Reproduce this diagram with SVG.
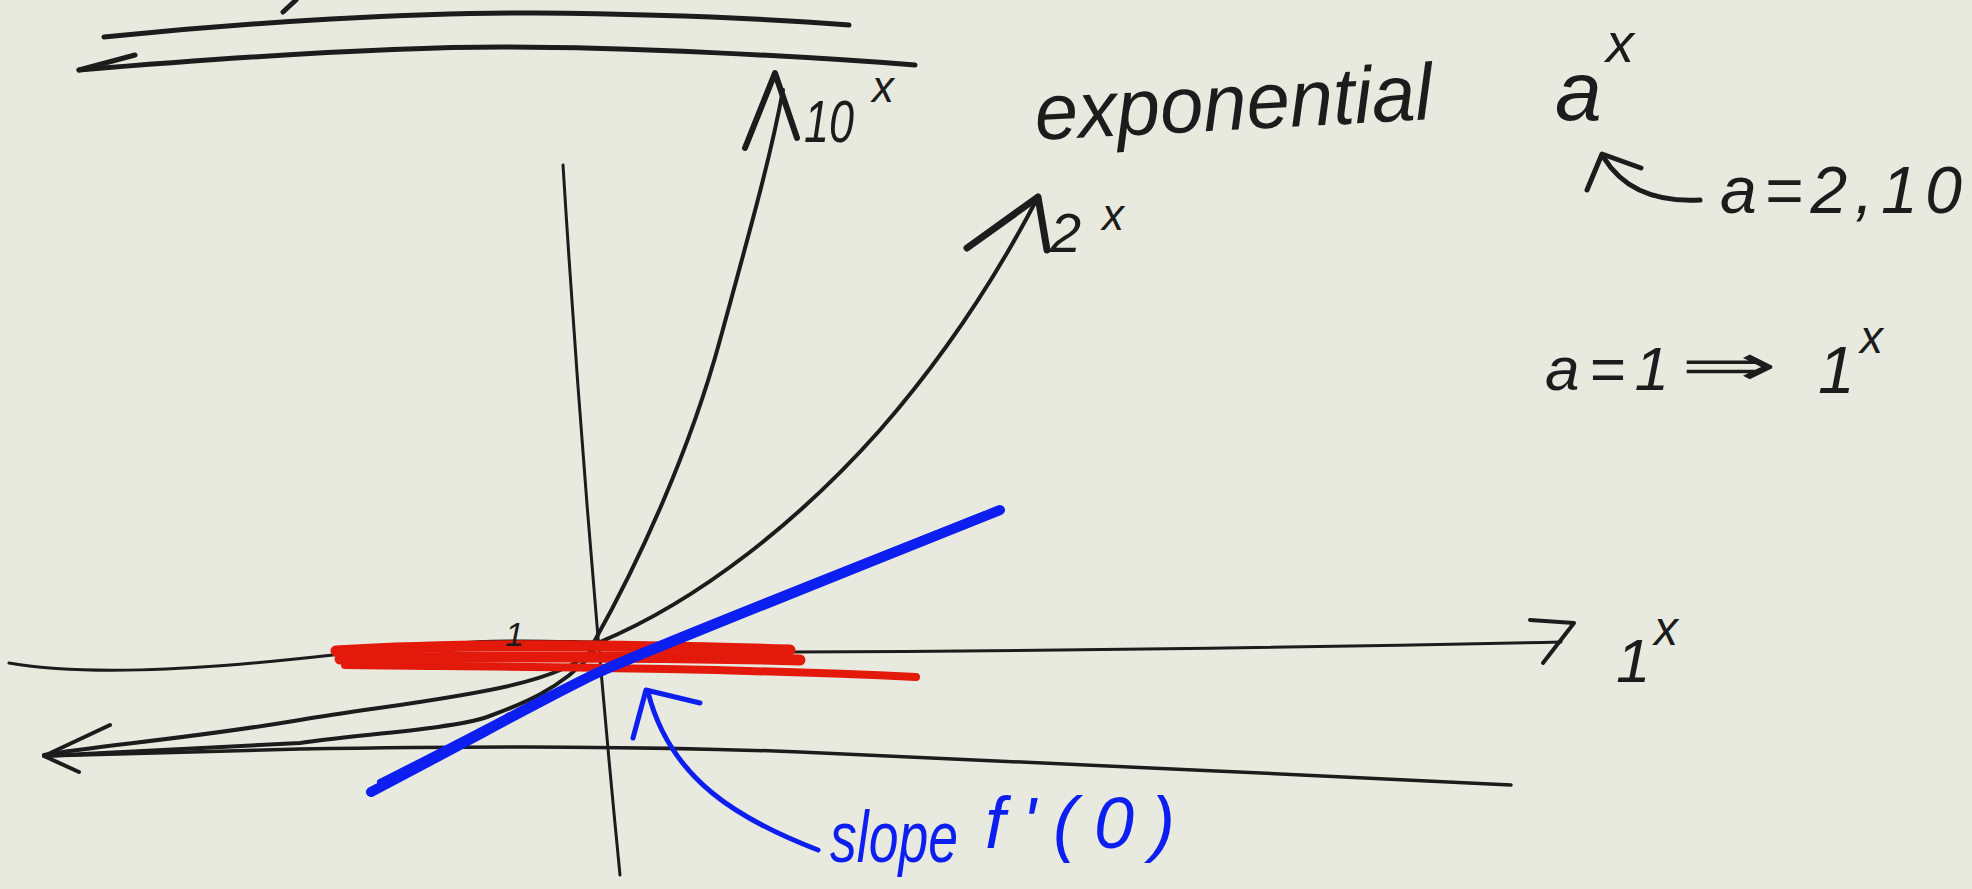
<svg xmlns="http://www.w3.org/2000/svg" width="1972" height="889" viewBox="0 0 1972 889">
<style>
.ink{fill:none;stroke:#1c1c1c;stroke-linecap:round;stroke-linejoin:round}
.red{fill:none;stroke:#e2190b;stroke-linecap:round}
.blue{fill:none;stroke:#0d1ff0;stroke-linecap:round;stroke-linejoin:round}
.t{font-family:"Liberation Sans","DejaVu Sans",sans-serif;font-style:italic;fill:#1c1c1c}
.tb{font-family:"Liberation Sans","DejaVu Sans",sans-serif;font-style:italic;fill:#0d1ff0}
</style>
<rect width="1972" height="889" fill="#e9eadf"/>
<g id="top-strokes">
<path class="ink" stroke-width="5" d="M296,0 L283,12"/>
<path class="ink" stroke-width="5" d="M104,37 C250,22 420,12 535,13 S760,18 849,25"/>
<path class="ink" stroke-width="5" d="M79,70 C200,60 380,47 503,47 S800,56 915,65"/>
<path class="ink" stroke-width="5" d="M79,70 L135,55"/>
</g>
<g id="axes">
<path class="ink" stroke-width="3" d="M563,165 Q585,520 620,875"/>
<path class="ink" stroke-width="3.5" d="M44,756 L300,749 C500,746 650,746 800,752 S1300,775 1511,785"/>
<path class="ink" stroke-width="4" d="M110,725 L44,756 L79,772"/>
</g>
<g id="curve-1x">
<path class="ink" stroke-width="3" d="M9,663 C80,675 180,672 333,655 S500,640 594,642 L790,652 Q1200,650 1561,642"/>
<path class="ink" stroke-width="4" d="M1530,620 L1574,623 L1543,663"/>
<text class="t" x="1616" y="682" font-size="62" font-style="normal">1</text>
<text class="t" x="1654" y="645" font-size="48" font-style="normal">x</text>
</g>
<g id="curve-10x">
<path class="ink" stroke-width="4" d="M594,642 C640,560 690,450 720,340 S770,160 783,90"/>
<path class="ink" stroke-width="6" d="M745,148 L775,73 L797,138"/>
<text class="t" x="804" y="142" font-size="60" textLength="50" lengthAdjust="spacingAndGlyphs">10</text>
<text class="t" x="872" y="102" font-size="44">x</text>
</g>
<g id="curve-2x">
<path class="ink" stroke-width="4" d="M600,642 C700,600 800,520 880,430 C950,350 1000,270 1038,197"/>
<path class="ink" stroke-width="7" d="M967,248 L1038,197 L1047,250"/>
<text class="t" x="1050" y="252" font-size="56" font-style="normal">2</text>
<text class="t" x="1102" y="230" font-size="44">x</text>
</g>
<g id="left-tails">
<path class="ink" stroke-width="4" d="M592,650 C555,690 420,700 300,720 S100,745 44,755"/>
<path class="ink" stroke-width="4" d="M594,652 C560,690 520,705 487,717 S350,735 300,743 L44,756"/>
</g>
<g id="tangent-red">
<path class="red" stroke-width="11" d="M336,651 C450,644 600,644 790,650"/>
<path class="red" stroke-width="11" d="M340,659 C500,656 650,656 800,660"/>
<path class="red" stroke-width="8" d="M345,665 C500,667 700,667 916,677"/>
<text class="t" x="505" y="646" font-size="34" font-style="normal">1</text>
</g>
<g id="tangent-blue">
<path class="blue" stroke-width="10" d="M371,792 C480,735 560,690 600,672 S800,590 1000,510"/>
<path class="blue" stroke-width="6" d="M380,782 C487,728 567,684 607,666 S805,585 985,514"/>
</g>
<g id="slope-label">
<path class="blue" stroke-width="5" d="M818,850 C740,820 670,780 648,692"/>
<path class="blue" stroke-width="5" d="M633,738 L646,690 L700,703"/>
<text class="tb" x="830" y="862" font-size="72" textLength="128" lengthAdjust="spacingAndGlyphs">slope</text>
<text class="tb" x="985" y="848" font-size="72" textLength="190" lengthAdjust="spacing">f'(0)</text>
</g>
<g id="title">
<text class="t" x="1036" y="140" font-size="80" textLength="398" lengthAdjust="spacingAndGlyphs" transform="rotate(-3 1036 140)">exponential</text>
<text class="t" x="1555" y="120" font-size="84">a</text>
<text class="t" x="1606" y="62" font-size="56">x</text>
<path class="ink" stroke-width="5" d="M1700,200 C1660,202 1625,192 1604,158"/>
<path class="ink" stroke-width="5" d="M1587,190 L1602,154 L1641,168"/>
<text class="t" x="1720" y="213" font-size="66" textLength="242" lengthAdjust="spacing">a=2,10</text>
<text class="t" x="1545" y="390" font-size="62" textLength="124" lengthAdjust="spacing">a=1</text>
<text class="t" x="1680" y="385" font-size="58" font-family="'DejaVu Sans',sans-serif" textLength="98" lengthAdjust="spacingAndGlyphs">⇒</text>
<text class="t" x="1818" y="393" font-size="66" font-style="normal">1</text>
<text class="t" x="1860" y="353" font-size="46">x</text>
</g>
</svg>
